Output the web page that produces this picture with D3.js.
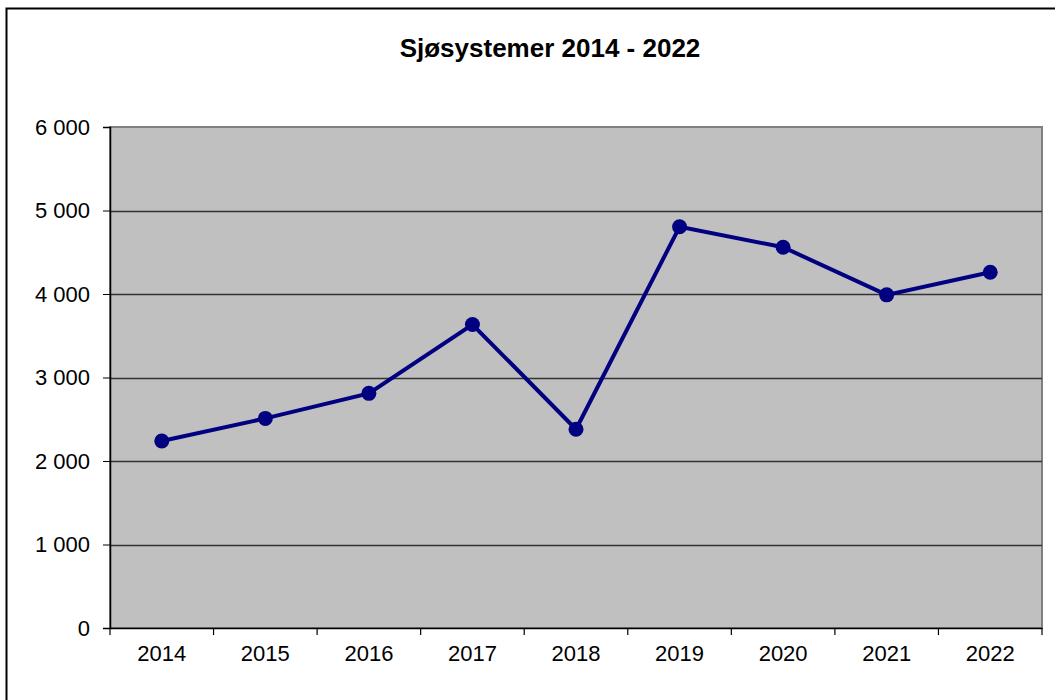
<!DOCTYPE html>
<head>
  <meta charset="utf-8">
  <script src="https://d3js.org/d3.v7.min.js"></script>
  <style>
    body { margin:0; background:#fff; }
    text { font-family: Arial, "Liberation Sans", sans-serif; fill:#000; }
  </style>
</head>
<body>
  <script>
    // data
    var years = ["2014","2015","2016","2017","2018","2019","2020","2021","2022"];
    var values = [2240, 2510, 2810, 3635, 2380, 4805, 4560, 3990, 4260];
    var yTicks = [0, 1000, 2000, 3000, 4000, 5000, 6000];
    var title = "Sjøsystemer 2014 - 2022";

    var width = 1055, height = 700;
    var plot = {left:110, top:127, right:1042, bottom:628};

    var svg = d3.select('body').append('svg')
      .attr('width', width).attr('height', height);

    // outer frame
    svg.append('rect')
      .attr('x', 6.5).attr('y', 8.5)
      .attr('width', 1100).attr('height', 800)
      .attr('fill', 'none').attr('stroke', '#000').attr('stroke-width', 2);

    var xScale = d3.scaleBand().domain(years).range([plot.left, plot.right]);
    var yScale = d3.scaleLinear().domain([0, 6000]).range([plot.bottom, plot.top]);

    svg.append('rect')
      .attr('x', plot.left).attr('y', plot.top)
      .attr('width', plot.right - plot.left).attr('height', plot.bottom - plot.top)
      .attr('fill', '#c0c0c0').attr('stroke', '#808080').attr('stroke-width', 2);

    // gridlines
    svg.selectAll('.grid').data(yTicks.filter(d => d > 0 && d < 6000))
      .enter().append('line').attr('class', 'grid')
      .attr('x1', plot.left).attr('x2', plot.right)
      .attr('y1', d => Math.round(yScale(d)) + 0.5).attr('y2', d => Math.round(yScale(d)) + 0.5)
      .attr('stroke', '#333').attr('stroke-width', 1.3);

    var fmt = function(d){ return d3.format(',')(d).replace(/,/g, ' '); };

    var yAxis = d3.axisLeft(yScale).tickValues(yTicks).tickSize(7).tickPadding(13).tickFormat(fmt);
    var yAxisG = svg.append('g').attr('transform', `translate(${plot.left},0)`).call(yAxis);
    yAxisG.select('.domain').attr('stroke', '#000').attr('stroke-width', 1.5);
    yAxisG.selectAll('text').style('font-size', '22px').attr('fill', '#000');

    var xAxis = d3.axisBottom(xScale).tickSize(0).tickPadding(17);
    var xAxisG = svg.append('g').attr('transform', `translate(0,${plot.bottom})`).call(xAxis);
    xAxisG.select('.domain').attr('stroke', '#000').attr('stroke-width', 1.5);
    xAxisG.selectAll('text').style('font-size', '22px').attr('fill', '#000');

    // category boundary ticks
    var bounds = years.map(d => xScale(d)).concat([plot.right]);
    svg.selectAll('.xtick').data(bounds).enter().append('line')
      .attr('x1', d => d).attr('x2', d => d)
      .attr('y1', plot.bottom).attr('y2', plot.bottom + 7)
      .attr('stroke', '#000').attr('stroke-width', 1.2);

    var cx = d => xScale(d) + xScale.bandwidth() / 2;
    var line = d3.line().x((d, i) => cx(years[i])).y(d => yScale(d));

    svg.append('path').datum(values)
      .attr('d', line).attr('fill', 'none')
      .attr('stroke', '#000080').attr('stroke-width', 4);

    svg.selectAll('.dot').data(values).enter().append('circle')
      .attr('cx', (d, i) => cx(years[i])).attr('cy', d => yScale(d))
      .attr('r', 7.5).attr('fill', '#000080');

    svg.append('text')
      .attr('x', 550).attr('y', 57).attr('text-anchor', 'middle')
      .style('font-size', '26px').style('font-weight', 'bold')
      .text(title);
  </script>
</body>
